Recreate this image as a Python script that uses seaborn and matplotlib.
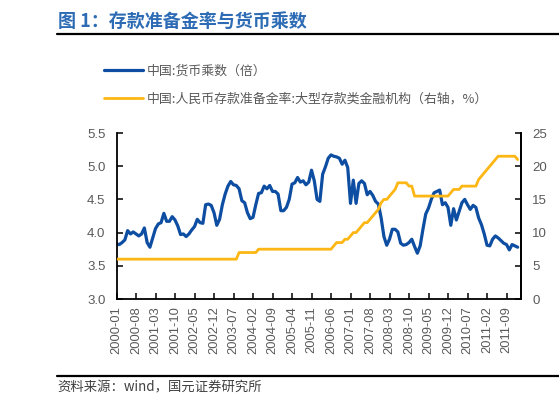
import numpy as np
import pandas as pd
import matplotlib
matplotlib.use("Agg")
import matplotlib.pyplot as plt
import seaborn as sns

sns.set_style("ticks")
plt.rcParams["font.family"] = ["Liberation Sans", "Noto Sans CJK SC", "DejaVu Sans"]

# monthly data 2000-01 .. 2012-01
months = pd.period_range("2000-01", "2012-01", freq="M").astype(str).tolist()

multiplier = [
    3.83, 3.82, 3.85, 3.89, 4.03, 3.98, 4.01, 3.98, 3.95, 3.98, 4.07, 3.85,  # 2000
    3.78, 3.92, 4.06, 4.13, 4.15, 4.29, 4.17, 4.17, 4.24, 4.19, 4.10, 3.97,  # 2001
    3.98, 3.94, 3.98, 4.04, 4.09, 4.20, 4.15, 4.14, 4.42, 4.43, 4.41, 4.30,  # 2002
    4.11, 4.20, 4.42, 4.58, 4.70, 4.77, 4.72, 4.71, 4.66, 4.48, 4.45, 4.30,  # 2003
    4.21, 4.23, 4.42, 4.59, 4.60, 4.70, 4.66, 4.71, 4.62, 4.62, 4.58, 4.33,  # 2004
    4.33, 4.38, 4.50, 4.73, 4.75, 4.83, 4.76, 4.78, 4.72, 4.76, 4.94, 4.78,  # 2005
    4.50, 4.47, 4.88, 4.99, 5.12, 5.17, 5.15, 5.14, 5.12, 5.03, 5.09, 4.98,  # 2006
    4.44, 4.79, 4.44, 4.74, 4.78, 4.74, 4.57, 4.62, 4.56, 4.47, 4.43, 4.22,  # 2007
    3.94, 3.81, 3.90, 4.05, 4.05, 4.01, 3.84, 3.81, 3.82, 3.85, 3.90, 3.79,  # 2008
    3.69, 3.80, 4.05, 4.28, 4.37, 4.50, 4.60, 4.62, 4.64, 4.42, 4.45, 4.38,  # 2009
    4.11, 4.36, 4.19, 4.32, 4.45, 4.50, 4.42, 4.35, 4.41, 4.38, 4.22, 4.12,  # 2010
    3.98, 3.81, 3.80, 3.90, 3.95, 3.92, 3.88, 3.84, 3.82, 3.74, 3.82, 3.80,  # 2011
    3.78,                                                                    # 2012
]

rrr = [
    6.0, 6.0, 6.0, 6.0, 6.0, 6.0, 6.0, 6.0, 6.0, 6.0, 6.0, 6.0,  # 2000
    6.0, 6.0, 6.0, 6.0, 6.0, 6.0, 6.0, 6.0, 6.0, 6.0, 6.0, 6.0,  # 2001
    6.0, 6.0, 6.0, 6.0, 6.0, 6.0, 6.0, 6.0, 6.0, 6.0, 6.0, 6.0,  # 2002
    6.0, 6.0, 6.0, 6.0, 6.0, 6.0, 6.0, 6.0, 7.0, 7.0, 7.0, 7.0,  # 2003
    7.0, 7.0, 7.0, 7.5, 7.5, 7.5, 7.5, 7.5, 7.5, 7.5, 7.5, 7.5,  # 2004
    7.5, 7.5, 7.5, 7.5, 7.5, 7.5, 7.5, 7.5, 7.5, 7.5, 7.5, 7.5,  # 2005
    7.5, 7.5, 7.5, 7.5, 7.5, 7.5, 8.0, 8.5, 8.5, 8.5, 9.0, 9.0,  # 2006
    9.5, 10.0, 10.0, 10.5, 11.0, 11.5, 11.5, 12.0, 12.5, 13.0, 13.5, 14.5,  # 2007
    15.0, 15.0, 15.5, 16.0, 16.5, 17.5, 17.5, 17.5, 17.5, 17.0, 17.0, 15.5,  # 2008
    15.5, 15.5, 15.5, 15.5, 15.5, 15.5, 15.5, 15.5, 15.5, 15.5, 15.5, 15.5,  # 2009
    16.0, 16.5, 16.5, 16.5, 17.0, 17.0, 17.0, 17.0, 17.0, 17.0, 18.0, 18.5,  # 2010
    19.0, 19.5, 20.0, 20.5, 21.0, 21.5, 21.5, 21.5, 21.5, 21.5, 21.5, 21.5,  # 2011
    21.0,                                                                    # 2012
]

tick_labels = [
    "2000-01", "2000-08", "2001-03", "2001-10", "2002-05", "2002-12",
    "2003-07", "2004-02", "2004-09", "2005-04", "2005-11", "2006-06",
    "2007-01", "2007-08", "2008-03", "2008-10", "2009-05", "2009-12",
    "2010-07", "2011-02", "2011-09",
]

label_mult = "中国:货币乘数（倍）"
label_rrr = "中国:人民币存款准备金率:大型存款类金融机构（右轴，%）"

df = pd.DataFrame({"month": months, "mult": multiplier, "rrr": rrr})
df["idx"] = np.arange(len(df))

blue = "#0D4EA2"
yellow = "#FDB714"
gray = "#595959"

W, H = 559, 403
fig = plt.figure(figsize=(W / 100, H / 100), dpi=100)
ax = fig.add_axes([116.5 / W, 1 - 299 / H, (521 - 116.5) / W, 166 / H])
ax2 = ax.twinx()

sns.lineplot(data=df, x="idx", y="mult", ax=ax, color=blue, linewidth=2.3, label=label_mult, legend=False)
sns.lineplot(data=df, x="idx", y="rrr", ax=ax2, color=yellow, linewidth=2.0, label=label_rrr, legend=False)

ax.set_xlim(0, 145.2)
ax.set_ylim(3.0, 5.5)
ax.set_yticks(np.arange(3.0, 5.51, 0.5))
ax.set_yticklabels([f"{v:.1f}" for v in np.arange(3.0, 5.51, 0.5)])
ax2.set_ylim(0, 25)
ax2.set_yticks(range(0, 26, 5))

tick_pos = [months.index(t) for t in tick_labels]
ax.set_xticks(tick_pos)
ax.set_xticklabels(tick_labels, rotation=90)
ax.set_xlabel("")
ax.set_ylabel("")
ax2.set_ylabel("")

for a in (ax, ax2):
    a.spines["top"].set_visible(False)
    for s in ("left", "bottom", "right"):
        a.spines[s].set_linewidth(1.3)
        a.spines[s].set_color("black")
    a.tick_params(direction="in", length=4, width=1.1, colors="black",
                  labelcolor=gray, labelsize=9.5)
ax.tick_params(axis="x", labelsize=9.3, pad=5)
ax.tick_params(axis="y", pad=8)
ax2.tick_params(axis="y", pad=8)
ax2.spines["left"].set_visible(False)
ax2.spines["bottom"].set_visible(False)

# legend
h1, l1 = ax.get_legend_handles_labels()
h2, l2 = ax2.get_legend_handles_labels()
fig.legend(h1 + h2, l1 + l2, loc="upper left", bbox_to_anchor=(104 / W, 1 - 65 / H),
           frameon=False, borderpad=0, borderaxespad=0, handlelength=3.0,
           handletextpad=0.3, labelspacing=1.15, prop={"family": ["Noto Sans CJK SC"], "size": 9.3},
           labelcolor=gray)

# title and rules
fig.text(58 / W, 1 - 21 / H, "图 1：存款准备金率与货币乘数", color="#2D6CB4",
         fontsize=13, fontweight="bold", family=["Noto Sans CJK SC"], va="center", ha="left")
fig.add_artist(plt.Line2D([57 / W, 1], [1 - 34 / H] * 2, color="black", linewidth=1.6))
fig.add_artist(plt.Line2D([57 / W, 1], [1 - 375.5 / H] * 2, color="black", linewidth=1.6))
fig.text(57 / W, 1 - 387 / H, "资料来源：wind，国元证券研究所", color="#404040",
         fontsize=9.6, family=["Noto Sans CJK SC", "Liberation Sans"], va="center", ha="left")

fig.savefig("out.png", dpi=100)
